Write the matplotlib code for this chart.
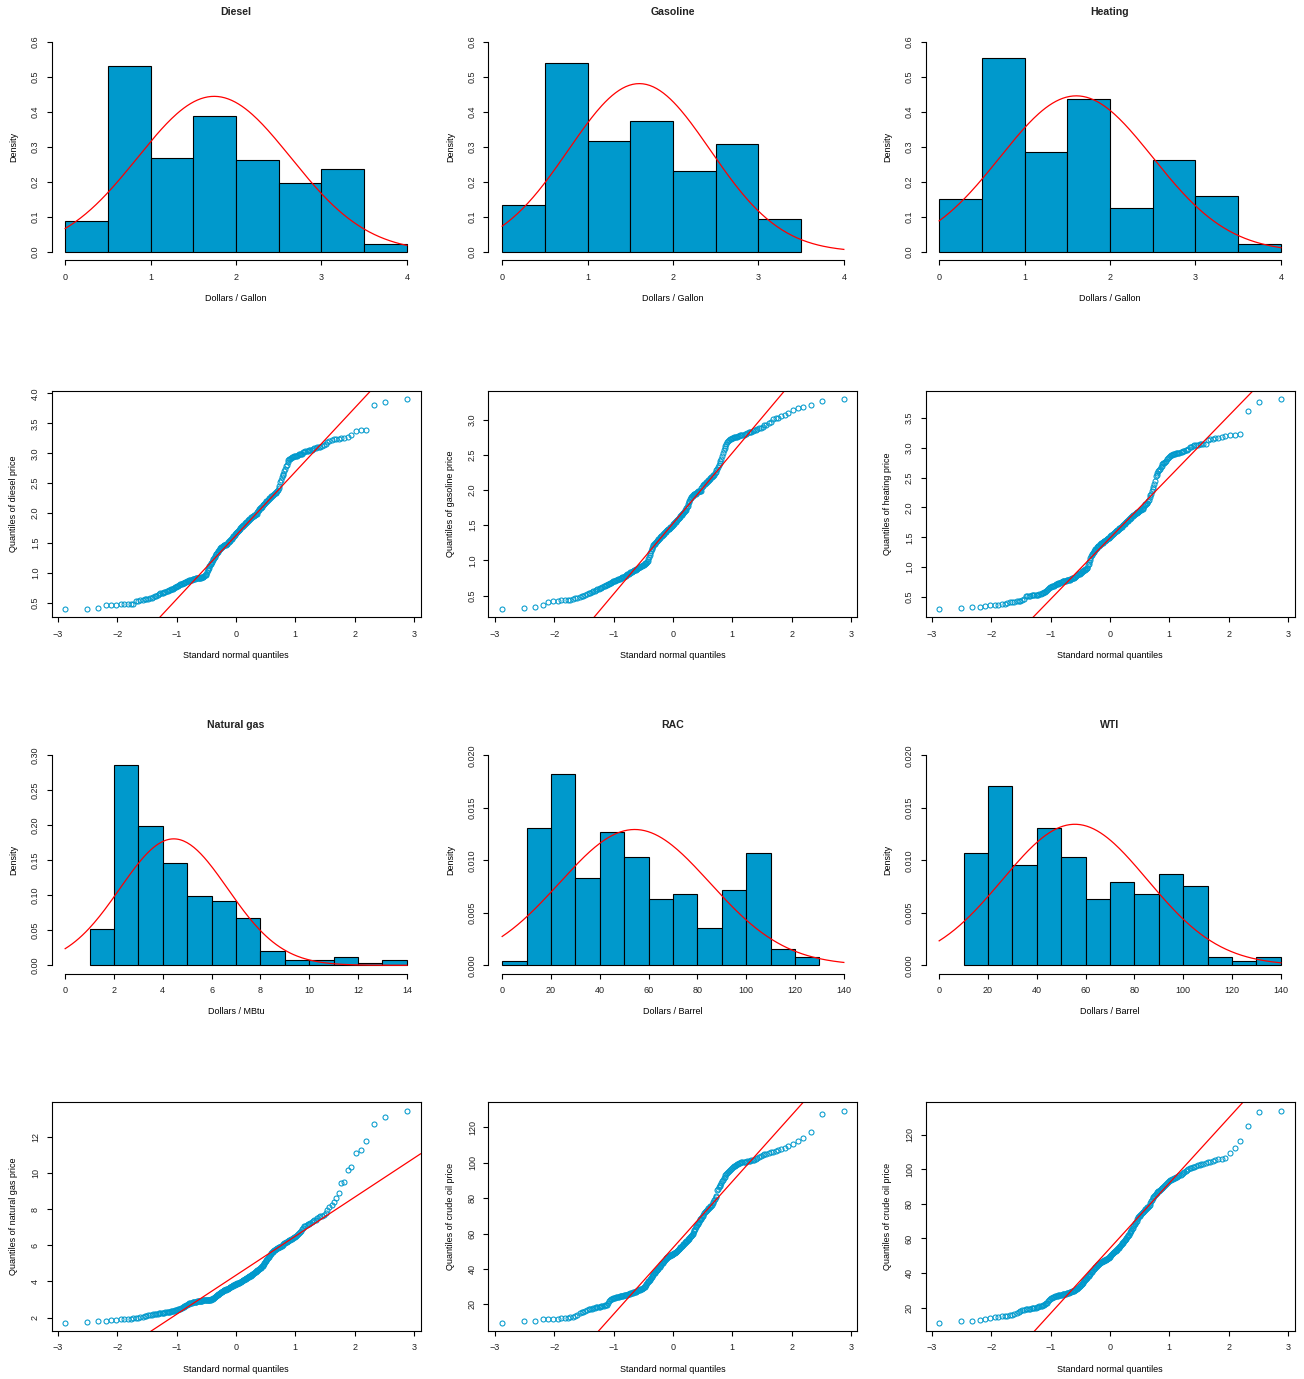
import matplotlib
matplotlib.use('Agg')
import matplotlib.pyplot as plt
import numpy as np

from matplotlib.ticker import FormatStrFormatter, MultipleLocator
from statistics import NormalDist


# sorted monthly prices (252 values each)
DIESEL = [
    0.40, 0.40, 0.42, 0.47, 0.47, 0.47, 0.48, 0.48, 0.48, 0.49, 0.49,
    0.53, 0.54, 0.55, 0.55, 0.56, 0.56, 0.57, 0.58, 0.59,
    0.60, 0.61, 0.62, 0.63, 0.65, 0.66, 0.66, 0.67, 0.68, 0.69,
    0.70, 0.70, 0.71, 0.72, 0.73, 0.74, 0.74, 0.75, 0.76, 0.77,
    0.78, 0.79, 0.80, 0.81, 0.82, 0.82, 0.83, 0.84, 0.84, 0.85,
    0.85, 0.86, 0.86, 0.87, 0.88, 0.88, 0.89, 0.89, 0.90, 0.90,
    0.90, 0.90, 0.91, 0.91, 0.91, 0.91, 0.92, 0.92, 0.92, 0.92,
    0.93, 0.93, 0.94, 0.94, 0.95, 0.96, 0.97, 0.99,
    1.02, 1.05, 1.07, 1.09, 1.11, 1.13, 1.15, 1.17, 1.19, 1.21,
    1.23, 1.25, 1.27, 1.29, 1.31, 1.32, 1.34, 1.35, 1.37, 1.38,
    1.40, 1.41, 1.42, 1.43, 1.44, 1.45, 1.45, 1.46, 1.46, 1.47, 1.47, 1.48, 1.48, 1.49,
    1.51, 1.52, 1.53, 1.54, 1.55, 1.56, 1.57, 1.59, 1.60, 1.61,
    1.62, 1.64, 1.65, 1.66, 1.67, 1.68, 1.69, 1.70, 1.71, 1.72,
    1.74, 1.75, 1.76, 1.77, 1.78, 1.79, 1.80, 1.81, 1.82, 1.83,
    1.84, 1.85, 1.86, 1.87, 1.88, 1.89, 1.90, 1.91, 1.92, 1.93,
    1.93, 1.94, 1.95, 1.96, 1.97, 1.97, 1.98, 1.99, 1.99,
    2.02, 2.04, 2.05, 2.07, 2.08, 2.09, 2.10, 2.11, 2.13, 2.14,
    2.15, 2.16, 2.17, 2.19, 2.20, 2.21, 2.22, 2.23, 2.25, 2.26,
    2.27, 2.28, 2.29, 2.30, 2.31, 2.32, 2.33, 2.34, 2.36, 2.37, 2.39, 2.42, 2.46,
    2.52, 2.56, 2.60, 2.63, 2.66, 2.70, 2.74, 2.78, 2.81, 2.85,
    2.88, 2.90, 2.91, 2.92, 2.93, 2.94, 2.95, 2.95, 2.96, 2.96,
    2.97, 2.98, 2.98, 2.99, 2.99,
    3.02, 3.02, 3.03, 3.03, 3.04, 3.05, 3.05, 3.06, 3.07, 3.08,
    3.09, 3.10, 3.10, 3.11, 3.12, 3.14, 3.16, 3.19, 3.21, 3.22,
    3.23, 3.23, 3.24, 3.25, 3.26, 3.27, 3.31, 3.38, 3.39, 3.39,
    3.81, 3.86, 3.90,
]

GASOLINE = [
    0.31, 0.32, 0.34, 0.37, 0.41, 0.42, 0.42, 0.43, 0.43, 0.44, 0.44, 0.45, 0.46, 0.47, 0.48, 0.49, 0.49,
    0.51, 0.52, 0.53, 0.54, 0.55, 0.56, 0.57, 0.58, 0.59, 0.60,
    0.61, 0.61, 0.62, 0.63, 0.64, 0.65, 0.65, 0.66, 0.67, 0.68,
    0.68, 0.69, 0.70, 0.71, 0.71, 0.72, 0.72, 0.73, 0.74, 0.74,
    0.75, 0.75, 0.76, 0.77, 0.77, 0.78, 0.78, 0.79, 0.80, 0.80,
    0.81, 0.82, 0.83, 0.83, 0.84, 0.85, 0.85, 0.86, 0.87, 0.87,
    0.88, 0.88, 0.89, 0.89, 0.90, 0.91, 0.91, 0.92, 0.92, 0.93,
    0.94, 0.94, 0.95, 0.96, 0.96, 0.97, 0.98, 0.99,
    1.02, 1.05, 1.08, 1.11, 1.14, 1.16, 1.18, 1.20, 1.22, 1.23,
    1.24, 1.25, 1.26, 1.27, 1.28, 1.29, 1.30, 1.31, 1.32, 1.33,
    1.34, 1.35, 1.35, 1.36, 1.37, 1.38, 1.39, 1.40, 1.41, 1.42,
    1.43, 1.43, 1.44, 1.45, 1.45, 1.46, 1.47, 1.48, 1.49, 1.49,
    1.51, 1.52, 1.52, 1.53, 1.54, 1.55, 1.56, 1.57, 1.58, 1.59,
    1.60, 1.61, 1.62, 1.63, 1.64, 1.65, 1.66, 1.67, 1.68, 1.69,
    1.70, 1.71, 1.72, 1.74, 1.76, 1.78, 1.80, 1.83, 1.85, 1.87,
    1.89, 1.90, 1.91, 1.92, 1.93, 1.94, 1.94, 1.95, 1.95, 1.96,
    1.97, 1.97, 1.98, 1.98, 1.99, 1.99, 1.99,
    2.03, 2.05, 2.06, 2.07, 2.08, 2.09, 2.10, 2.11, 2.12, 2.13,
    2.14, 2.15, 2.16, 2.17, 2.18, 2.19, 2.20, 2.21, 2.22, 2.24,
    2.26, 2.28, 2.30, 2.33, 2.35, 2.38, 2.41, 2.44, 2.48,
    2.53, 2.57, 2.60, 2.63, 2.66, 2.68, 2.70, 2.71, 2.72, 2.73,
    2.74, 2.74, 2.75, 2.75, 2.76, 2.76, 2.77, 2.77, 2.78, 2.78,
    2.79, 2.79, 2.80, 2.80, 2.81, 2.82, 2.82, 2.83, 2.84, 2.85,
    2.86, 2.87, 2.88, 2.89, 2.90, 2.92, 2.93, 2.95, 2.97,
    3.01, 3.02, 3.03, 3.05, 3.07, 3.10, 3.14, 3.17, 3.18, 3.21, 3.27, 3.29,
]

HEATING = [
    0.30, 0.31, 0.33, 0.34, 0.35, 0.36, 0.36, 0.37, 0.38, 0.39,
    0.40, 0.41, 0.42, 0.42, 0.43, 0.43, 0.44, 0.45, 0.47,
    0.51, 0.51, 0.52, 0.52, 0.53, 0.53, 0.53, 0.54, 0.54, 0.54,
    0.55, 0.55, 0.56, 0.57, 0.58, 0.59, 0.60, 0.62, 0.63, 0.65,
    0.66, 0.67, 0.68, 0.68, 0.69, 0.70, 0.71, 0.72, 0.72, 0.73,
    0.74, 0.74, 0.75, 0.75, 0.76, 0.76, 0.76, 0.77, 0.77, 0.78,
    0.78, 0.78, 0.79, 0.79, 0.80, 0.80, 0.81, 0.81, 0.82, 0.82,
    0.83, 0.84, 0.85, 0.86, 0.87, 0.88, 0.89, 0.89, 0.90, 0.91,
    0.92, 0.93, 0.93, 0.94, 0.95, 0.96, 0.97, 0.97, 0.98, 0.99,
    1.03, 1.06, 1.09, 1.12, 1.15, 1.18, 1.20, 1.22, 1.24, 1.26,
    1.27, 1.28, 1.30, 1.31, 1.32, 1.34, 1.35, 1.35, 1.36, 1.37,
    1.38, 1.39, 1.40, 1.40, 1.41, 1.42, 1.43, 1.43, 1.44, 1.45,
    1.46, 1.47, 1.47, 1.48, 1.49, 1.49,
    1.51, 1.52, 1.52, 1.53, 1.54, 1.55, 1.56, 1.57, 1.58, 1.59,
    1.60, 1.61, 1.61, 1.62, 1.63, 1.64, 1.65, 1.65, 1.66, 1.67,
    1.68, 1.69, 1.70, 1.71, 1.72, 1.73, 1.74, 1.75, 1.76, 1.77,
    1.78, 1.79, 1.80, 1.81, 1.82, 1.83, 1.84, 1.85, 1.86, 1.87,
    1.88, 1.89, 1.89, 1.90, 1.91, 1.92, 1.92, 1.93, 1.94, 1.95,
    1.96, 1.96, 1.97, 1.98, 1.99,
    2.02, 2.04, 2.05, 2.06, 2.07, 2.08, 2.10, 2.13, 2.17, 2.20, 2.23, 2.27, 2.31, 2.35, 2.40, 2.45,
    2.52, 2.55, 2.58, 2.61, 2.63, 2.65, 2.67, 2.70, 2.73, 2.74,
    2.75, 2.76, 2.78, 2.81, 2.83, 2.85, 2.86, 2.87, 2.88, 2.89,
    2.89, 2.90, 2.91, 2.91, 2.92, 2.92, 2.93, 2.93, 2.94, 2.95, 2.96, 2.97, 2.98,
    3.01, 3.02, 3.03, 3.04, 3.05, 3.05, 3.06, 3.06, 3.06, 3.07,
    3.13, 3.14, 3.15, 3.16, 3.17, 3.18, 3.19, 3.21, 3.22, 3.23,
    3.62, 3.77, 3.81,
]

NATURAL_GAS = [
    1.73, 1.74, 1.80, 1.81, 1.86, 1.89, 1.91, 1.93, 1.94, 1.95, 1.96, 1.97, 1.99,
    2.02, 2.05, 2.08, 2.10, 2.13, 2.15, 2.17, 2.18, 2.19, 2.20,
    2.22, 2.23, 2.24, 2.25, 2.26, 2.27, 2.29, 2.30, 2.31, 2.32,
    2.33, 2.34, 2.35, 2.36, 2.38, 2.40, 2.42, 2.44, 2.46, 2.48,
    2.50, 2.52, 2.55, 2.58, 2.61, 2.63, 2.66, 2.69, 2.72, 2.75,
    2.78, 2.80, 2.81, 2.82, 2.83, 2.85, 2.86, 2.87, 2.88, 2.89,
    2.89, 2.90, 2.90, 2.91, 2.92, 2.92, 2.93, 2.93, 2.94, 2.95,
    2.95, 2.96, 2.96, 2.96, 2.97, 2.97, 2.98, 2.98, 2.98, 2.99, 2.99, 2.99,
    3.02, 3.04, 3.05, 3.07, 3.10, 3.12, 3.15, 3.18, 3.21, 3.24,
    3.27, 3.30, 3.32, 3.35, 3.37, 3.39, 3.41, 3.43, 3.46, 3.48,
    3.50, 3.52, 3.54, 3.55, 3.57, 3.58, 3.60, 3.61, 3.63, 3.65,
    3.67, 3.69, 3.71, 3.73, 3.75, 3.77, 3.79, 3.81, 3.83, 3.85,
    3.86, 3.87, 3.88, 3.90, 3.91, 3.93, 3.94, 3.96, 3.97, 3.99,
    4.02, 4.04, 4.06, 4.08, 4.10, 4.12, 4.14, 4.16, 4.18, 4.20,
    4.22, 4.24, 4.26, 4.28, 4.30, 4.32, 4.35, 4.37, 4.40, 4.42,
    4.45, 4.47, 4.50, 4.52, 4.55, 4.58, 4.61, 4.64, 4.67, 4.70,
    4.74, 4.77, 4.81, 4.84, 4.88, 4.92, 4.97,
    5.02, 5.07, 5.12, 5.18, 5.24, 5.29, 5.35, 5.40, 5.45, 5.50,
    5.55, 5.60, 5.65, 5.69, 5.73, 5.76, 5.79, 5.82, 5.84, 5.86,
    5.88, 5.90, 5.92, 5.95, 5.98,
    6.03, 6.07, 6.10, 6.13, 6.16, 6.19, 6.22, 6.25, 6.28, 6.31,
    6.34, 6.37, 6.40, 6.44, 6.48, 6.52, 6.56, 6.60, 6.66, 6.72,
    6.80, 6.88, 6.95,
    7.05, 7.08, 7.12, 7.15, 7.19, 7.23, 7.27, 7.32, 7.37, 7.42, 7.48, 7.54, 7.60, 7.64, 7.68, 7.80, 7.95,
    8.10, 8.25, 8.40, 8.60, 8.88,
    9.43, 9.52, 10.17, 10.31, 11.09, 11.26, 11.76, 12.70, 13.07, 13.43,
]

RAC = [
    9.8,
    10.4, 10.5, 11.7, 11.9, 11.9, 12.0, 12.1, 12.3, 12.6, 12.8,
    13.1, 13.3, 14.2, 14.9, 15.5, 16.0, 16.5, 16.8, 17.2, 17.5,
    17.7, 17.9, 18.1, 18.3, 18.5, 18.6, 18.8, 19.0, 19.1, 19.3, 19.5, 19.7, 19.9,
    21.0, 21.8, 22.4, 22.9, 23.3, 23.6, 23.8, 23.9, 24.0, 24.2,
    24.3, 24.4, 24.5, 24.6, 24.8, 24.9, 25.0, 25.1, 25.2, 25.4,
    25.5, 25.6, 25.8, 25.9, 26.0, 26.2, 26.3, 26.5, 26.6, 26.8,
    27.0, 27.2, 27.3, 27.5, 27.7, 27.9, 28.1, 28.2, 28.4, 28.6,
    28.8, 29.0, 29.2, 29.4, 29.6, 29.8,
    30.4, 31.0, 31.5, 32.0, 32.5, 33.0, 33.5, 34.0, 34.5, 35.0,
    35.5, 36.0, 36.5, 37.0, 37.5, 38.0, 38.4, 38.8, 39.2, 39.6, 39.9,
    40.4, 40.9, 41.3, 41.8, 42.3, 42.7, 43.2, 43.6, 44.0, 44.4,
    44.8, 45.2, 45.6, 46.0, 46.3, 46.6, 46.8, 47.1, 47.3, 47.5,
    47.7, 47.9, 48.1, 48.3, 48.5, 48.7, 48.9, 49.1, 49.3, 49.5, 49.7, 49.9,
    50.4, 50.8, 51.1, 51.5, 51.8, 52.2, 52.5, 52.9, 53.2, 53.6,
    53.9, 54.3, 54.6, 55.0, 55.3, 55.7, 56.0, 56.4, 56.8, 57.2,
    57.6, 58.0, 58.5, 58.9, 59.3, 59.8,
    60.5, 61.3, 62.0, 62.8, 63.5, 64.2, 64.9, 65.6, 66.2, 66.8, 67.4, 68.0, 68.5, 69.0, 69.4, 69.8,
    70.6, 71.4, 72.1, 72.6, 73.0, 73.4, 73.8, 74.2, 74.6, 75.0, 75.4, 75.8, 76.3, 77.0, 77.8, 78.7, 79.6,
    80.6, 81.0, 84.8, 85.3, 86.0, 86.8, 87.6, 88.5, 89.4,
    90.3, 91.2, 92.0, 92.8, 93.5, 94.2, 94.8, 95.4, 96.0, 96.6, 97.1, 97.6, 98.0, 98.4, 98.8, 99.1, 99.4, 99.7,
    100.1, 100.2, 100.3, 100.4, 100.5, 100.6, 100.7, 100.9, 101.1, 101.3,
    101.5, 101.8, 102.1, 102.5, 103.0, 103.6, 104.2, 104.7, 105.1, 105.5,
    105.8, 106.1, 106.5, 107.2, 107.6, 108.5, 109.6,
    110.8, 112.4, 113.8, 117.6, 127.4, 129.3,
]

WTI = [
    11.3, 12.0, 12.4, 13.0, 13.6, 13.9, 14.3, 14.6, 14.8, 15.1,
    15.3, 15.5, 15.8, 16.2, 16.8, 17.4, 17.9, 18.3, 18.7, 19.0,
    19.2, 19.3, 19.4, 19.5, 19.6, 19.7, 19.9,
    20.2, 20.4, 20.6, 20.9, 21.1, 21.4, 21.7, 22.0, 22.4, 22.9,
    23.5, 24.2, 25.0, 25.4, 25.7, 26.0, 26.2, 26.4, 26.6, 26.7,
    26.9, 27.0, 27.2, 27.3, 27.4, 27.5, 27.6, 27.7, 27.8, 28.0,
    28.1, 28.3, 28.4, 28.5, 28.7, 28.8, 29.0, 29.1, 29.3, 29.5,
    29.6, 29.8, 29.9,
    30.2, 30.5, 30.8, 31.1, 31.4, 31.8, 32.2, 32.6, 33.0, 33.4,
    33.8, 34.3, 34.8, 35.3, 35.8, 36.3, 36.8, 37.2, 37.6, 38.0, 38.5, 38.9, 39.3, 39.7,
    40.3, 40.8, 41.3, 41.7, 42.1, 42.5, 42.9, 43.3, 43.7, 44.1,
    44.5, 44.8, 45.1, 45.3, 45.6, 45.8, 46.1, 46.3, 46.6, 46.8,
    47.0, 47.2, 47.4, 47.6, 47.8, 48.0, 48.2, 48.4, 48.6, 48.8, 49.2, 49.5, 49.8,
    50.3, 50.6, 51.0, 51.3, 51.6, 52.0, 52.3, 52.6, 53.0, 53.3,
    53.6, 54.0, 54.3, 54.7, 55.1, 55.5, 55.9, 56.4, 56.8, 57.2,
    57.6, 58.0, 58.5, 58.9, 59.3, 59.8,
    60.3, 60.8, 61.3, 61.8, 62.3, 62.9, 63.5, 64.2, 64.9, 65.6, 66.3, 67.0, 67.7, 68.4, 69.0, 69.6,
    70.3, 71.0, 71.6, 72.2, 72.8, 73.3, 73.8, 74.3, 74.8, 75.2,
    75.6, 76.0, 76.4, 76.8, 77.2, 77.6, 78.0, 78.5, 79.0, 79.6,
    80.5, 81.5, 82.5, 83.3, 84.0, 84.6, 85.2, 85.8, 86.3, 86.8, 87.3, 87.8, 88.2, 88.6, 89.0, 89.4, 89.8,
    90.5, 91.2, 91.8, 92.4, 92.9, 93.3, 93.7, 94.0, 94.3, 94.6, 94.9,
    95.2, 95.5, 95.8, 96.1, 96.5, 96.9, 97.3, 97.8, 98.3, 98.9, 99.5,
    100.3, 100.7, 101.1, 101.4, 101.7, 102.0, 102.3, 102.6, 102.9, 103.2,
    103.6, 104.1, 104.6, 105.1, 105.6, 106.0, 106.3, 106.6, 109.3,
    112.6, 116.7, 125.2, 133.4, 134.0,
]

TITLES = ['Diesel', 'Gasoline', 'Heating', 'Natural gas', 'RAC', 'WTI']
HIST_XLABELS = ['Dollars / Gallon', 'Dollars / Gallon', 'Dollars / Gallon',
                'Dollars / MBtu', 'Dollars / Barrel', 'Dollars / Barrel']
QQ_YLABELS = ['Quantiles of diesel price', 'Quantiles of gasoline price',
              'Quantiles of heating price', 'Quantiles of natural gas price',
              'Quantiles of crude oil price', 'Quantiles of crude oil price']
# histogram breaks: start, stop, width
BREAKS = [(0, 4, 0.5), (0, 3.5, 0.5), (0, 4, 0.5), (1, 14, 1), (0, 130, 10), (10, 140, 10)]
# axis ranges of the histograms (x max, x step, y max, y step)
HIST_XMAX = [4, 4, 4, 14, 140, 140]
HIST_XSTEP = [1, 1, 1, 2, 20, 20]
HIST_YMAX = [0.6, 0.6, 0.6, 0.30, 0.020, 0.020]
HIST_YSTEP = [0.1, 0.1, 0.1, 0.05, 0.005, 0.005]
HIST_YFMT = ['%.1f', '%.1f', '%.1f', '%.2f', '%.3f', '%.3f']
QQ_YSTEP = [0.5, 0.5, 0.5, 2, 20, 20]
QQ_YFMT = ['%.1f', '%.1f', '%.1f', '%d', '%d', '%d']

BLUE = '#0099CC'
W, H = 1304, 1379
COL_LEFT = [51.5, 488.5, 925.5]   # pixel positions of the plot regions
COL_WIDTH = 369
HIST_ROWS = [(33.6, 260.4), (746.9, 973.7)]
QQ_ROWS = [(391.0, 617.3), (1102.3, 1331.0)]


def make_axes(fig, col: int, top: float, bottom: float):
    return fig.add_axes([COL_LEFT[col] / W, 1 - bottom / H, COL_WIDTH / W, (bottom - top) / H])


def place_labels(ax, top: float, bottom: float, xlabel: str, ylabel: str) -> None:
    h = bottom - top
    ax.set_xlabel(xlabel, va='center')
    ax.xaxis.set_label_coords(0.5, -38 / h)
    ax.set_ylabel(ylabel, va='center')
    ax.yaxis.set_label_coords(-37.7 / COL_WIDTH, 0.5)


def draw_hist(fig, k: int, data: list[float], top: float, bottom: float) -> None:
    ax = make_axes(fig, k % 3, top, bottom)
    start, stop, width = BREAKS[k]
    edges = np.arange(start, stop + width / 2, width)
    values = np.array(data)
    ax.hist(values, bins=edges, density=True, color=BLUE, edgecolor='black', linewidth=0.8)
    # normal density with the sample mean and standard deviation
    nd = NormalDist(values.mean(), values.std(ddof=1))
    xs = np.linspace(0, HIST_XMAX[k], 200)
    ax.plot(xs, [nd.pdf(x) for x in xs], color='red', linewidth=0.9)

    xm, ym = HIST_XMAX[k], HIST_YMAX[k]
    ax.set_xlim(-0.04 * xm, 1.04 * xm)
    ax.set_ylim(-0.04 * ym, 1.04 * ym)
    ax.xaxis.set_major_locator(MultipleLocator(HIST_XSTEP[k]))
    ax.yaxis.set_major_locator(MultipleLocator(HIST_YSTEP[k]))
    ax.yaxis.set_major_formatter(FormatStrFormatter(HIST_YFMT[k]))
    for side in ['top', 'right']:
        ax.spines[side].set_visible(False)
    ax.spines['bottom'].set_bounds(0, xm)
    ax.spines['left'].set_bounds(0, ym)
    ax.text(0.5, 1 + 21.6 / (bottom - top), TITLES[k], transform=ax.transAxes,
            ha='center', va='center', fontsize=7.6, fontweight='bold')
    place_labels(ax, top, bottom, HIST_XLABELS[k], 'Density')


def draw_qq(fig, k: int, data: list[float], top: float, bottom: float) -> None:
    ax = make_axes(fig, k % 3, top, bottom)
    sample = np.sort(np.array(data))
    n = len(sample)
    std = NormalDist()
    theo = np.array([std.inv_cdf((i - 0.5) / n) for i in range(1, n + 1)])
    ax.plot(theo, sample, linestyle='none', marker='o', markersize=3.6,
            markerfacecolor='none', markeredgecolor=BLUE, markeredgewidth=0.75)
    # line through the first and third quartiles (like qqline)
    q1, q3 = np.quantile(sample, [0.25, 0.75])
    x1, x3 = std.inv_cdf(0.25), std.inv_cdf(0.75)
    slope = (q3 - q1) / (x3 - x1)
    ax.axline((x1, q1), slope=slope, color='red', linewidth=0.9)
    ax.margins(0.04)
    ax.xaxis.set_major_locator(MultipleLocator(1))
    ax.yaxis.set_major_locator(MultipleLocator(QQ_YSTEP[k]))
    ax.yaxis.set_major_formatter(FormatStrFormatter(QQ_YFMT[k]))
    place_labels(ax, top, bottom, 'Standard normal quantiles', QQ_YLABELS[k])


def main() -> None:
    plt.rcParams['font.family'] = ['Liberation Sans', 'DejaVu Sans']
    plt.rcParams['font.size'] = 6.5
    plt.rcParams['axes.linewidth'] = 0.8
    plt.rcParams['xtick.major.size'] = 3.3
    plt.rcParams['ytick.major.size'] = 3.3
    plt.rcParams['xtick.major.width'] = 0.8
    plt.rcParams['ytick.major.width'] = 0.8
    plt.rcParams['xtick.major.pad'] = 5.5
    plt.rcParams['ytick.major.pad'] = 5.0
    plt.rcParams['ytick.alignment'] = 'center'
    plt.rcParams['text.color'] = '#222222'
    plt.rcParams['xtick.color'] = 'black'
    plt.rcParams['ytick.color'] = 'black'
    plt.rcParams['xtick.labelcolor'] = '#222222'
    plt.rcParams['ytick.labelcolor'] = '#222222'

    fig = plt.figure(figsize=(W / 100, H / 100), dpi=100)
    series = [DIESEL, GASOLINE, HEATING, NATURAL_GAS, RAC, WTI]
    for k, data in enumerate(series):
        block = k // 3
        draw_hist(fig, k, data, *HIST_ROWS[block])
        draw_qq(fig, k, data, *QQ_ROWS[block])
    for ax in fig.axes:
        ax.tick_params(axis='y', labelrotation=90)
    fig.savefig('out.png', dpi=100)


if __name__ == '__main__':
    main()
